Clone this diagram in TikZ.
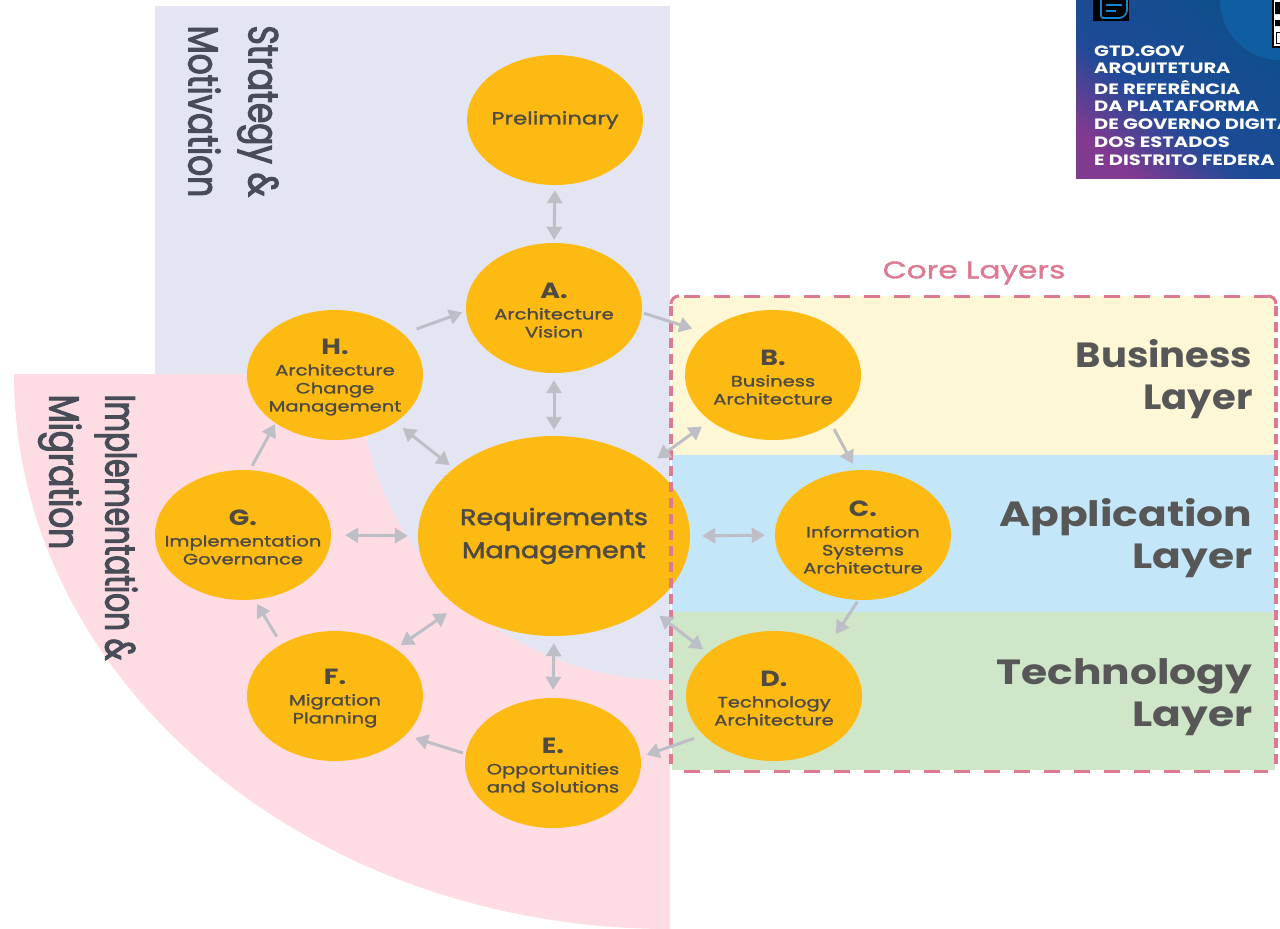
\documentclass[tikz,border=0pt]{standalone}
\usepackage{fontspec}
\setmainfont{Poppins}
\newfontfamily\pmed[FakeBold=1.4,FakeStretch=1.3]{Poppins}
\newfontfamily\preq[FakeBold=2.4,FakeStretch=1.2]{Poppins}
\newfontfamily\pwide[FakeStretch=1.22]{Poppins}
\newfontfamily\playerA[FakeStretch=1.21]{Poppins}
\newfontfamily\playerB[FakeStretch=1.1]{Poppins}
\newfontfamily\pban[FakeStretch=1.3]{Poppins}
\newfontfamily\sidea[FakeBold=2.6,FakeStretch=0.78]{Poppins}
\newfontfamily\sideb[FakeBold=2.6,FakeStretch=0.70]{Poppins}
\usetikzlibrary{arrows.meta,shapes.geometric}
\definecolor{lav}{HTML}{E3E5F2}
\definecolor{pinkbg}{HTML}{FDDDE3}
\definecolor{gold}{HTML}{FDBA12}
\definecolor{ink}{HTML}{4F4A42}
\definecolor{slate}{HTML}{474C57}
\definecolor{arrowgray}{HTML}{BDBEC6}
\definecolor{yel}{HTML}{FEF7D6}
\definecolor{blu}{HTML}{C4E6F9}
\definecolor{grn}{HTML}{CFE6C8}
\definecolor{dashp}{HTML}{DB7A90}
\definecolor{bantop}{HTML}{0F4F8C}
\definecolor{banmid}{HTML}{1F4A98}
\definecolor{banbot}{HTML}{803A90}
\pgfdeclareverticalshading{bannershade}{100bp}{color(0bp)=(banbot);color(25bp)=(banbot);color(43bp)=(banmid);color(75bp)=(bantop);color(100bp)=(bantop)}
\newcommand{\fs}[2]{\fontsize{#1}{#2}\selectfont}
\newcommand{\letterfont}{\pwide\bfseries\fs{22}{18}\rule{0pt}{20pt}}
\newcommand{\subfont}{\pmed\fs{15}{18}}
\tikzset{
 phase/.style={ellipse,fill=gold,minimum width=176pt,minimum height=130pt,inner xsep=-40pt,inner ysep=-30pt,align=center,text=ink,font=\subfont},
 bigphase/.style={ellipse,fill=gold,minimum width=272pt,minimum height=200pt,inner xsep=-40pt,inner ysep=-20pt,align=center,text=ink,font=\preq\fs{22.5}{33}},
 flow/.style={draw=arrowgray,line width=3pt,-{Triangle[length=13pt,width=15pt,fill=arrowgray]}},
 twoway/.style={draw=arrowgray,line width=3pt,{Triangle[length=13pt,width=15pt,fill=arrowgray]}-{Triangle[length=13pt,width=15pt,fill=arrowgray]}},
 layerlabel/.style={anchor=east,align=right,text=black!66,font=\playerA\bfseries\fs{35}{42}},
 sidelabel/.style={rotate=-90,anchor=north west,align=left,text=slate,font=\sidea\fs{42}{60}},
 bannertext/.style={anchor=west,text=white,inner sep=0pt,font=\pban\bfseries\fs{15}{16}},
 hdash/.style={dashp,line width=3pt,dash pattern=on 16pt off 14pt},
 vdash/.style={dashp,line width=4pt,dash pattern=on 10pt off 6pt},
}
\begin{document}
\begin{tikzpicture}[x=1pt,y=-1pt]
\useasboundingbox (0,0) rectangle (1280,929);
\clip (0,0) rectangle (1280,929);
% backgrounds
\fill[pinkbg] (14,374) arc[start angle=180,end angle=90,x radius=656,y radius=555] -- (670,374) -- cycle;
\fill[lav] (155,6) rectangle (670,374);
\fill[lav] (360,374) arc[start angle=180,end angle=90,x radius=310,y radius=306] -- (670,374) -- cycle;
\fill[yel] (672,296) rectangle (1275,455);
\fill[blu] (672,455) rectangle (1275,612);
\fill[grn] (672,612) rectangle (1275,770);
% banner
\begin{scope}
\clip (1076,0) rectangle (1280,178);
\shade[shading=bannershade,shading angle=320] (1076,0) rectangle (1280,178);
\fill[cyan!60!blue,opacity=.35] (1220,0) arc[start angle=180,end angle=90,radius=60] -- (1280,0) -- cycle;
\fill[black] (1093,0) rectangle (1129,21);
\draw[cyan!70!blue,line width=1.6pt,rounded corners=2pt] (1101,-3) -- (1101,18) -- (1122,18) -- (1127,13) -- (1127,-3);
\draw[cyan!70!blue,line width=1.4pt] (1106,5) -- (1122,5) (1106,11) -- (1116,11);
\fill[white] (1273,0) rectangle (1280,48);
\draw[black,line width=1.2pt] (1273,0) -- (1273,47) -- (1280,47);
\fill[black] (1275,2) rectangle (1280,14) (1275,20) rectangle (1280,26);
\draw[black,line width=1pt] (1276,32) rectangle (1282,43);
\node[bannertext] (t1) at (1094,51) {GTD.GOV};
\node[bannertext] (t2) at (1094,69) {ARQUITETURA};
\node[bannertext] (t3) at (1094,87) {DE REFERÊNCIA};
\node[bannertext] (t4) at (1094,106) {DA PLATAFORMA};
\node[bannertext] (t5) at (1094,124) {DE GOVERNO DIGITA};
\node[bannertext] (t6) at (1094,142) {DOS ESTADOS};
\node[bannertext] (t7) at (1094,160) {E DISTRITO FEDERA};
\end{scope}
% side labels
\node[sidelabel] (sm) at (282,22) {Strategy \&\\Motivation};
\node[sidelabel,font=\sideb\fs{42}{56}] (im) at (141,391) {Implementation \&\\\sidea Migration};
\node[text=dashp,font=\pmed\fs{24}{26}] (core) at (974,273) {Core Layers};
\node[layerlabel,font=\playerB\bfseries\fs{35}{42}] (bl) at (1256,379) {Business\\Layer};
\node[layerlabel] (al) at (1256,538) {Application\\Layer};
\node[layerlabel] (tl) at (1256,697) {Technology\\Layer};
% phases
\node[phase,font=\pmed\fs{17.5}{20}] (P) at (555,120) {Preliminary};
\node[phase] (A) at (554,308) {\letterfont A.\\[3pt]\subfont Architecture\\\subfont Vision};
\node[phase] (B) at (773,375) {\letterfont B.\\[3pt]\subfont Business\\\subfont Architecture};
\node[phase] (C) at (863,535) {\letterfont C.\\[3pt]\subfont Information\\\subfont Systems\\\subfont Architecture};
\node[phase] (D) at (774,696) {\letterfont D.\\[3pt]\subfont Technology\\\subfont Architecture};
\node[phase] (E) at (553,763) {\letterfont E.\\[3pt]\subfont Opportunities\\\subfont and Solutions};
\node[phase] (F) at (335,696) {\letterfont F.\\[3pt]\subfont Migration\\\subfont Planning};
\node[phase] (G) at (243,535) {\letterfont G.\\[3pt]\subfont Implementation\\\subfont Governance};
\node[phase] (H) at (335,375) {\letterfont H.\\[3pt]\subfont Architecture\\\subfont Change\\\subfont Management};
\node[bigphase] (R) at (554,536) {Requirements\\Management};
% dashed frame of the core layers
\draw[hdash] (684,296) -- (1268,296);
\draw[hdash] (684,771) -- (1268,771);
\draw[vdash] (671,306) -- (671,765);
\draw[vdash] (1276,306) -- (1276,765);
\draw[dashp,line width=3pt] (671,304) arc[start angle=180,end angle=270,radius=8];
\draw[dashp,line width=3pt] (1268,296) arc[start angle=270,end angle=360,radius=8];
% connectors
\draw[twoway,shorten <=5pt,shorten >=3pt] (P.south) -- (A.north);
\draw[twoway,shorten <=7pt,shorten >=6pt] (A.south) -- (R.north);
\draw[flow,shorten <=2pt,shorten >=14pt] (A.357) -- (B.148);
\draw[flow,shorten <=14pt,shorten >=4pt] (H.31) -- (A.182);
\draw[twoway,shorten <=9pt,shorten >=5pt] (H.322) -- (R.146);
\draw[twoway,shorten <=10pt,shorten >=10pt] (R.37) -- (B.216);
\draw[twoway,shorten <=14pt,shorten >=10pt] (G.east) -- (R.west);
\draw[twoway,shorten <=12pt,shorten >=10pt] (R.east) -- (C.west);
\draw[twoway,shorten <=6pt,shorten >=12pt] (F.38) -- (R.216);
\draw[twoway,shorten <=13pt,shorten >=6pt] (R.323) -- (D.147);
\draw[twoway,shorten <=7pt,shorten >=8pt] (R.south) -- (E.north);
\draw[flow,shorten <=6pt,shorten >=7pt] (B.320) -- (C.96);
\draw[flow,shorten <=2pt,shorten >=13pt] (C.266) -- (D.43);
\draw[flow,shorten <=10pt,shorten >=6pt] (D.209) -- (E.4);
\draw[flow,shorten <=3pt,shorten >=10pt] (E.174) -- (F.331);
\draw[flow,shorten <=9pt,shorten >=5pt] (F.136) -- (G.280);
\draw[flow,shorten <=5pt,shorten >=1pt] (G.84) -- (H.219);
\end{tikzpicture}
\end{document}
